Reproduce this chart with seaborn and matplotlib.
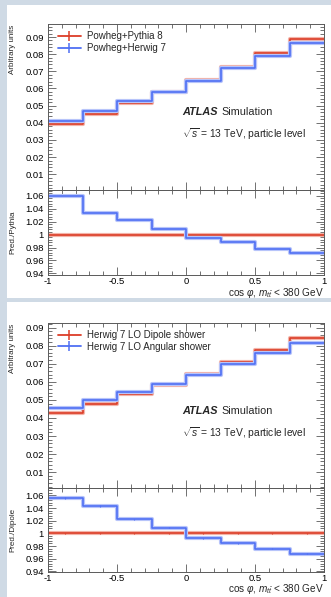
import numpy as np
import pandas as pd
import seaborn as sns
import matplotlib
matplotlib.use("Agg")
from matplotlib import pyplot as plt
from matplotlib.lines import Line2D
from matplotlib.patches import Rectangle
from matplotlib.ticker import MultipleLocator, FormatStrFormatter

# bin edges of cos phi
edges = [-1.0, -0.75, -0.5, -0.25, 0.0, 0.25, 0.5, 0.75, 1.0]

# top panel: Powheg+Pythia 8 vs Powheg+Herwig 7
pythia8 = [0.0392, 0.0450, 0.0515, 0.0577, 0.0647, 0.0723, 0.0804, 0.0888]
herwig7 = [0.0413, 0.0466, 0.0528, 0.0582, 0.0645, 0.0717, 0.0787, 0.0865]
ratio_herwig7 = [1.060, 1.033, 1.022, 1.008, 0.994, 0.989, 0.977, 0.972]

# bottom panel: Herwig 7 LO dipole vs angular shower
dipole = [0.0430, 0.0475, 0.0530, 0.0583, 0.0644, 0.0708, 0.0775, 0.0841]
angular = [0.0456, 0.0497, 0.0543, 0.0587, 0.0635, 0.0697, 0.0758, 0.0817]
ratio_angular = [1.056, 1.043, 1.022, 1.009, 0.992, 0.984, 0.976, 0.968]
ratio_err = [0.0012, 0.0012, 0.0012, 0.0012, 0.0012, 0.0012, 0.0012, 0.0012]

RED, RED_PALE = "#dc3d27", "#f3b3a8"
BLUE, BLUE_PALE = "#4f6ff3", "#b7c4fa"
FRAME = "#5a5a5a"

sns.set_style("ticks")
plt.rcParams["font.family"] = ["Liberation Sans", "DejaVu Sans"]
plt.rcParams["mathtext.fontset"] = "custom"
plt.rcParams["mathtext.rm"] = "Liberation Sans"
plt.rcParams["mathtext.it"] = "Liberation Sans:italic"

W, H = 331, 597
fig = plt.figure(figsize=(W / 100, H / 100), dpi=100)
fig.patch.set_facecolor("#cfdae5")

# white panels behind each plot
fig.patches.append(Rectangle((7 / W, 1 - 298 / H), 1, 293 / H, transform=fig.transFigure,
                             facecolor="white", edgecolor="none", zorder=-10))
fig.patches.append(Rectangle((7 / W, 0), 1, 1 - 302 / H, transform=fig.transFigure,
                             facecolor="white", edgecolor="none", zorder=-10))


def px_axes(top, bottom):
    return fig.add_axes([48 / W, 1 - bottom / H, 276 / W, (bottom - top) / H])


def steps(vals):
    return pd.DataFrame({"x": edges, "y": list(vals) + [vals[-1]]})


def style(ax, ymaj, ymin, fmt):
    ax.set_facecolor("none")
    ax.set_xlim(-1, 1)
    ax.xaxis.set_major_locator(MultipleLocator(0.5))
    ax.xaxis.set_minor_locator(MultipleLocator(0.1))
    ax.yaxis.set_major_locator(MultipleLocator(ymaj))
    ax.yaxis.set_minor_locator(MultipleLocator(ymin))
    ax.yaxis.set_major_formatter(FormatStrFormatter(fmt))
    ax.xaxis.set_major_formatter(FormatStrFormatter("%g"))
    ax.tick_params(which="both", direction="in", top=True, right=True,
                   colors=FRAME, labelcolor="black", labelsize=6.8, width=0.6)
    ax.tick_params(which="major", length=5.5, pad=3)
    ax.tick_params(which="minor", length=2.6)
    ax.tick_params(axis="x", which="major", pad=1.2)
    for s in ax.spines.values():
        s.set_color(FRAME)
        s.set_linewidth(0.7)
    ax.set_xlabel("")
    ax.set_ylabel("")


def draw_hist(ax, a, b):
    for vals, c, pale in [(a, RED, RED_PALE), (b, BLUE, BLUE_PALE)]:
        d = steps(vals)
        sns.lineplot(data=d, x="x", y="y", ax=ax, drawstyle="steps-post",
                     estimator=None, color=pale, lw=3.0)
        sns.lineplot(data=d, x="x", y="y", ax=ax, drawstyle="steps-post",
                     estimator=None, color=c, lw=1.2)


def panel(top, junction, bottom, a, b, r, labels, rlabel, ylim, rylim, err=None):
    ax = px_axes(top, junction)
    axr = px_axes(junction, bottom)

    draw_hist(ax, a, b)
    style(ax, 0.01, 0.002, "%.2f")
    ax.set_ylim(*ylim)
    ax.tick_params(axis="x", labelbottom=False)

    ones = [1.0] * len(r)
    draw_hist(axr, ones, r)
    if err is not None:
        centers = [(edges[i] + edges[i + 1]) / 2 for i in range(len(r))]
        for vals, c in [(ones, RED), (r, BLUE)]:
            axr.errorbar(centers, vals, yerr=err, fmt="none", ecolor=c, elinewidth=0.8)
    style(axr, 0.02, 0.004, "%g")
    axr.set_ylim(*rylim)

    handles = [Line2D([], [], color=c, lw=1.3, marker="|", markersize=7,
                      markeredgewidth=1.1) for c in (RED, BLUE)]
    ax.legend(handles, labels, loc="upper left", bbox_to_anchor=(0.035, 0.955),
              frameon=False, fontsize=7, handlelength=2.4, handletextpad=0.6,
              labelspacing=0.15, borderaxespad=0, borderpad=0)

    atlas = fig.text(182 / W, 1 - (top + 91) / H, "ATLAS", fontsize=7.8, weight="bold",
                     style="italic", va="baseline")
    ax.annotate("Simulation", xy=(1, 0), xycoords=atlas, xytext=(2.5, 0),
                textcoords="offset points", fontsize=7.8, va="bottom")
    fig.text(182 / W, 1 - (top + 110) / H, r"$\sqrt{s}$ = 13 TeV, particle level",
             fontsize=7.4, va="center")

    fig.text(13 / W, 1 - (top + 1) / H, "Arbitrary units", rotation=90,
             fontsize=5.8, ha="center", va="top")
    fig.text(13 / W, 1 - (junction + bottom) / 2 / H, rlabel, rotation=90,
             fontsize=5.8, ha="center", va="center")
    fig.text(324 / W, 1 - (bottom + 20.5) / H,
             r"cos $\varphi$, $m_{t\bar{t}}$ < 380 GeV",
             fontsize=7.2, ha="right", va="baseline")


panel(24, 190, 275, pythia8, herwig7, ratio_herwig7,
      ["Powheg+Pythia 8", "Powheg+Herwig 7"], "Pred./Pythia",
      (0.0008, 0.0976), (0.9375, 1.069))
panel(323, 488, 572, dipole, angular, ratio_angular,
      ["Herwig 7 LO Dipole shower", "Herwig 7 LO Angular shower"], "Pred./Dipole",
      (0.0013, 0.0925), (0.939, 1.0716), err=ratio_err)

fig.savefig("out.png", dpi=100)
